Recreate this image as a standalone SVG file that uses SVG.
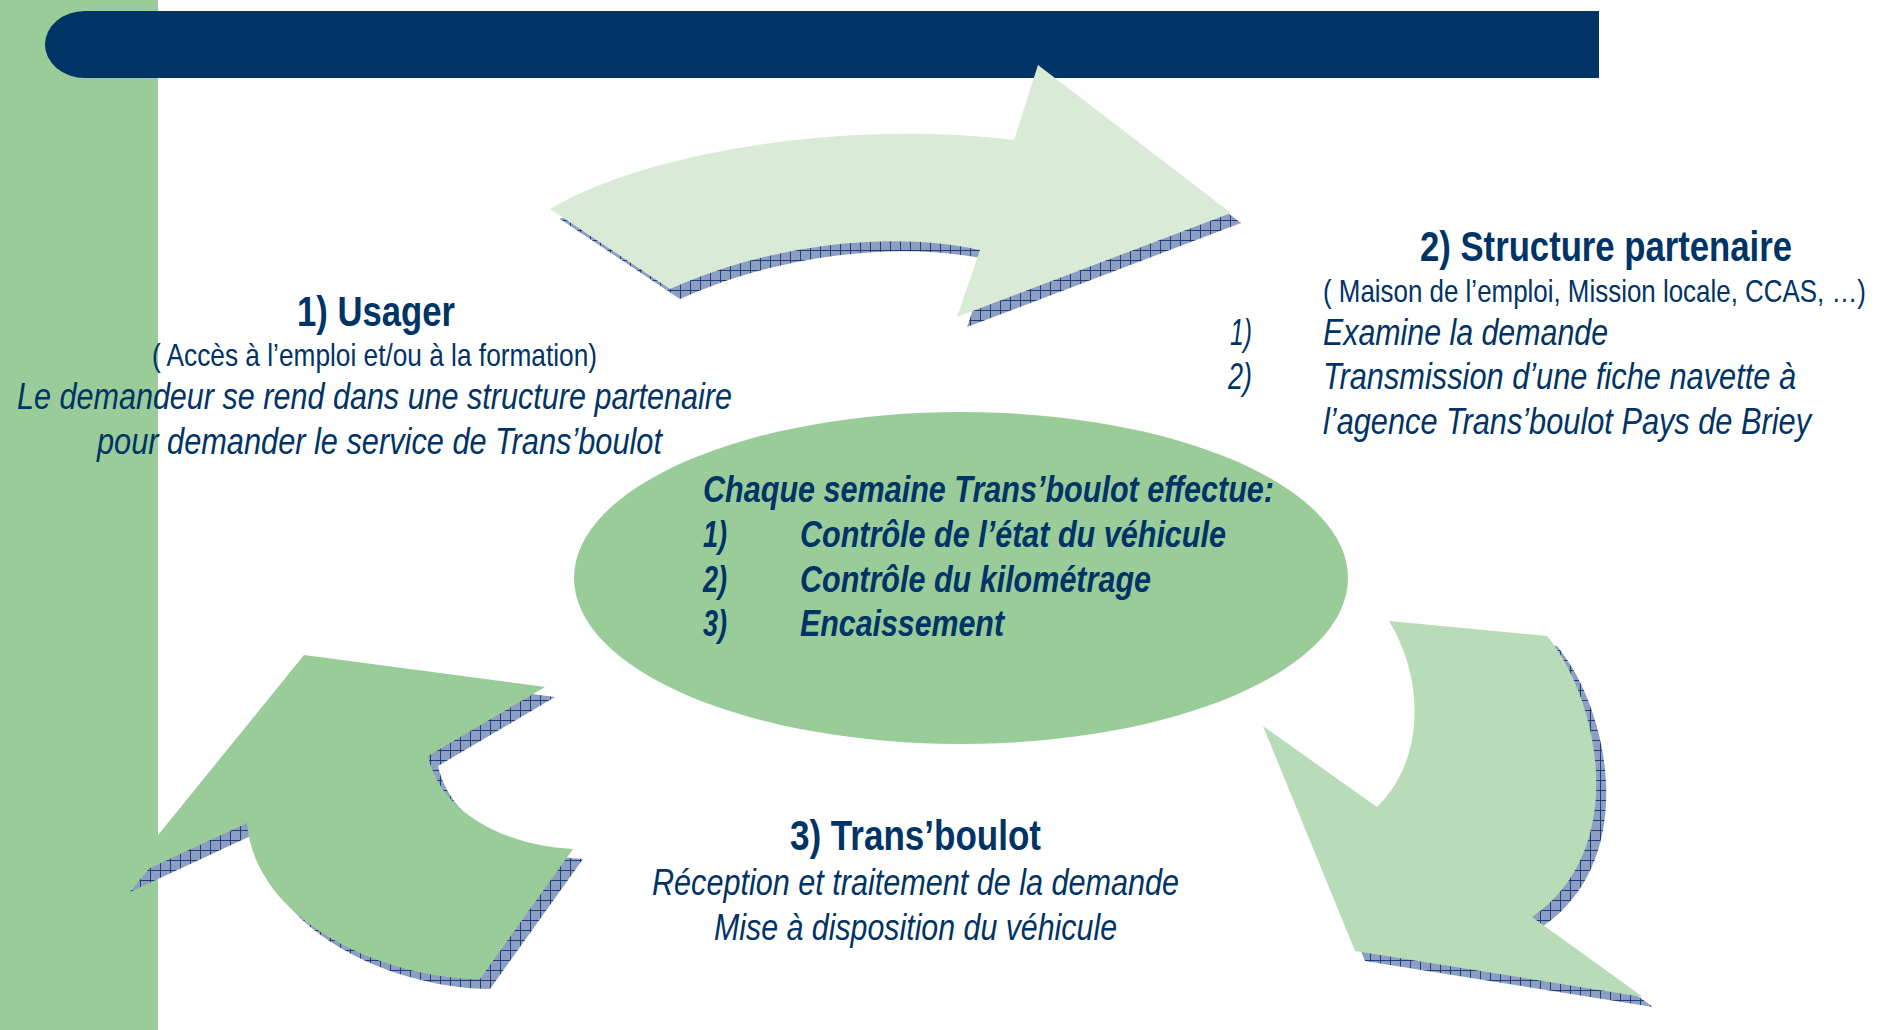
<svg xmlns="http://www.w3.org/2000/svg" width="1877" height="1030" viewBox="0 0 1877 1030">
  <style>
    text { font-family: "Liberation Sans", Arial, sans-serif; fill: #003366; }
    .h { font-size: 42px; font-weight: bold; }
    .sub { font-size: 32px; }
    .it { font-size: 36px; font-style: italic; }
    .ct { font-size: 36px; font-style: italic; font-weight: bold; }
    .shadow { fill: url(#hatch); }
  </style>
  <defs>
    <pattern id="hatch" patternUnits="userSpaceOnUse" width="10" height="10">
      <rect width="10" height="10" fill="#8c9ec2"/>
      <path d="M0,0.5 H10 M0.5,0 V10" stroke="#1f3f7c" stroke-width="1"/>
    </pattern>
  </defs>

  <!-- background -->
  <rect x="0" y="0" width="1877" height="1030" fill="#ffffff"/>
  <rect id="sidebar" x="0" y="0" width="158" height="1030" fill="#99cc99"/>
  <path id="titlebar" d="M1599,11 H85 A40,33.5 0 0 0 85,78 H1599 Z" fill="#003366"/>

  <g id="connectors">
    <g id="shadows" transform="translate(10,10)">
      <path class="shadow" d="M550,209 C650,150 850,120 1014,140 L1038,65 L1231,213 L957,317 L980,250 C900,232 780,240 670,289 Z"/>
      <path class="shadow" d="M1389,621 L1547,636 C1600,700 1630,850 1532,917 L1643,997 L1355,951 L1263,726 L1377,807 C1425,760 1425,680 1389,621 Z"/>
      <path class="shadow" d="M304,655 L545,687 L428,756 C440,810 500,845 573,849 L480,979 C380,978 255,920 247,823 L120,882 Z"/>
    </g>
    <path id="arrow-1-2" d="M550,209 C650,150 850,120 1014,140 L1038,65 L1231,213 L957,317 L980,250 C900,232 780,240 670,289 Z" fill="#d9ebd7"/>
    <path id="arrow-2-3" d="M1389,621 L1547,636 C1600,700 1630,850 1532,917 L1643,997 L1355,951 L1263,726 L1377,807 C1425,760 1425,680 1389,621 Z" fill="#b8dcb8"/>
    <path id="arrow-3-1" d="M304,655 L545,687 L428,756 C440,810 500,845 573,849 L480,979 C380,978 255,920 247,823 L120,882 Z" fill="#99cc99"/>
  </g>

  <g id="center">
    <ellipse cx="961" cy="578" rx="387" ry="166" fill="#99cc99"/>
    <text class="ct" x="703" y="502" textLength="571" lengthAdjust="spacingAndGlyphs">Chaque semaine Trans’boulot effectue:</text>
    <text class="ct" x="703" y="547" textLength="24" lengthAdjust="spacingAndGlyphs">1)</text>
    <text class="ct" x="800" y="547" textLength="426" lengthAdjust="spacingAndGlyphs">Contrôle de l’état du véhicule</text>
    <text class="ct" x="703" y="592" textLength="24" lengthAdjust="spacingAndGlyphs">2)</text>
    <text class="ct" x="800" y="592" textLength="351" lengthAdjust="spacingAndGlyphs">Contrôle du kilométrage</text>
    <text class="ct" x="703" y="636" textLength="24" lengthAdjust="spacingAndGlyphs">3)</text>
    <text class="ct" x="800" y="636" textLength="204" lengthAdjust="spacingAndGlyphs">Encaissement</text>
  </g>

  <g id="usager">
    <text class="h" x="297" y="326" textLength="158" lengthAdjust="spacingAndGlyphs">1) Usager</text>
    <text class="sub" x="152" y="366" textLength="445" lengthAdjust="spacingAndGlyphs">( Accès à l’emploi et/ou à la formation)</text>
    <text class="it" x="17" y="409" textLength="715" lengthAdjust="spacingAndGlyphs">Le demandeur se rend dans une structure partenaire</text>
    <text class="it" x="97" y="454" textLength="565" lengthAdjust="spacingAndGlyphs">pour demander le service de Trans’boulot</text>
  </g>

  <g id="structure">
    <text class="h" x="1420" y="261" textLength="372" lengthAdjust="spacingAndGlyphs">2) Structure partenaire</text>
    <text class="sub" x="1323" y="302" textLength="543" lengthAdjust="spacingAndGlyphs">( Maison de l’emploi, Mission locale, CCAS, …)</text>
    <text class="it" x="1230" y="345" textLength="22" lengthAdjust="spacingAndGlyphs">1)</text>
    <text class="it" x="1323" y="345" textLength="285" lengthAdjust="spacingAndGlyphs">Examine la demande</text>
    <text class="it" x="1228" y="389" textLength="24" lengthAdjust="spacingAndGlyphs">2)</text>
    <text class="it" x="1323" y="389" textLength="473" lengthAdjust="spacingAndGlyphs">Transmission d’une fiche navette à</text>
    <text class="it" x="1323" y="434" textLength="488" lengthAdjust="spacingAndGlyphs">l’agence Trans’boulot Pays de Briey</text>
  </g>

  <g id="transboulot">
    <text class="h" x="790" y="850" textLength="251" lengthAdjust="spacingAndGlyphs">3) Trans’boulot</text>
    <text class="it" x="652" y="895" textLength="527" lengthAdjust="spacingAndGlyphs">Réception et traitement de la demande</text>
    <text class="it" x="714" y="940" textLength="403" lengthAdjust="spacingAndGlyphs">Mise à disposition du véhicule</text>
  </g>
</svg>
